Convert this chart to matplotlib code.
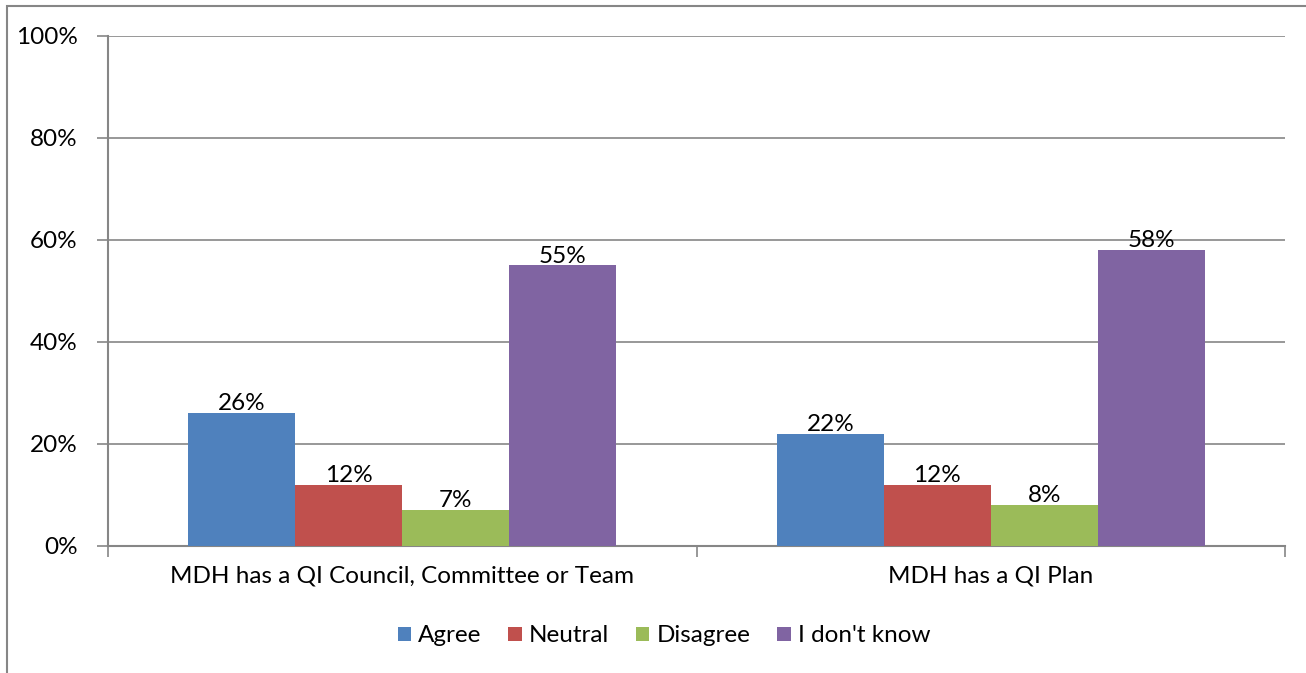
import numpy as np
import matplotlib
matplotlib.use("Agg")
import matplotlib.pyplot as plt
from matplotlib.patches import Rectangle, Patch

# ── data ──────────────────────────────────────────────────────────────────────
categories = ["MDH has a QI Council, Committee or Team", "MDH has a QI Plan"]
series = ["Agree", "Neutral", "Disagree", "I don't know"]
agree = [26, 22]
neutral = [12, 12]
disagree = [7, 8]
dont_know = [55, 58]
values = [agree, neutral, disagree, dont_know]
colors = ["#4F81BD", "#C0504D", "#9BBB59", "#8064A2"]

plt.rcParams["font.family"] = ["Lato", "DejaVu Sans"]
GRID = "#868686"
FS = 17.5

# ── figure ────────────────────────────────────────────────────────────────────
fig = plt.figure(figsize=(13.06, 6.73), dpi=100)
W, H = 1306, 673
ax = fig.add_axes([108 / W, 1 - 546 / H, (1285 - 108) / W, (546 - 36) / H])

# chart-area border (left and top visible)
fig.patches.append(Rectangle((7 / W, -0.1), 1.2, 1 - 6 / H + 0.1,
                             transform=fig.transFigure, fill=False,
                             edgecolor=GRID, linewidth=1.5))

x = np.arange(len(categories))
bw = 107 / 588.5
for i, (vals, col, name) in enumerate(zip(values, colors, series)):
    pos = x + (i - 1.5) * bw
    ax.bar(pos, vals, width=bw, color=col, label=name, zorder=3)
    for p, v in zip(pos, vals):
        ax.text(p, v - 0.2, f"{v}%", ha="center", va="bottom",
                fontsize=FS, color="black", zorder=4)

ax.set_xlim(-0.5, 1.5)
ax.set_ylim(0, 100)
ax.set_yticks(np.arange(0, 101, 20))
ax.set_yticklabels([f"{t}%" for t in range(0, 101, 20)], fontsize=FS)
ax.yaxis.grid(True, color=GRID, linewidth=1.2, zorder=0)

ax.set_xticks(x)
ax.set_xticklabels(categories, fontsize=FS)
ax.tick_params(axis="x", length=0, pad=14)
ax.set_xticks([-0.5, 0.5, 1.5], minor=True)
ax.tick_params(axis="x", which="minor", length=8, color=GRID, width=1.2)
ax.tick_params(axis="y", length=8, color=GRID, width=1.2, pad=14)

for s in ["top", "right"]:
    ax.spines[s].set_visible(False)
for s in ["left", "bottom"]:
    ax.spines[s].set_color(GRID)
    ax.spines[s].set_linewidth(1.5)

handles = [Patch(facecolor=c, label=n) for c, n in zip(colors, series)]
fig.legend(handles=handles, loc="center", bbox_to_anchor=(664 / W, 1 - 636 / H),
           ncol=4, frameon=False, fontsize=FS, handlelength=0.55,
           handleheight=0.55, handletextpad=0.3, columnspacing=1.1)

plt.savefig("out.png", dpi=100)
plt.close()
